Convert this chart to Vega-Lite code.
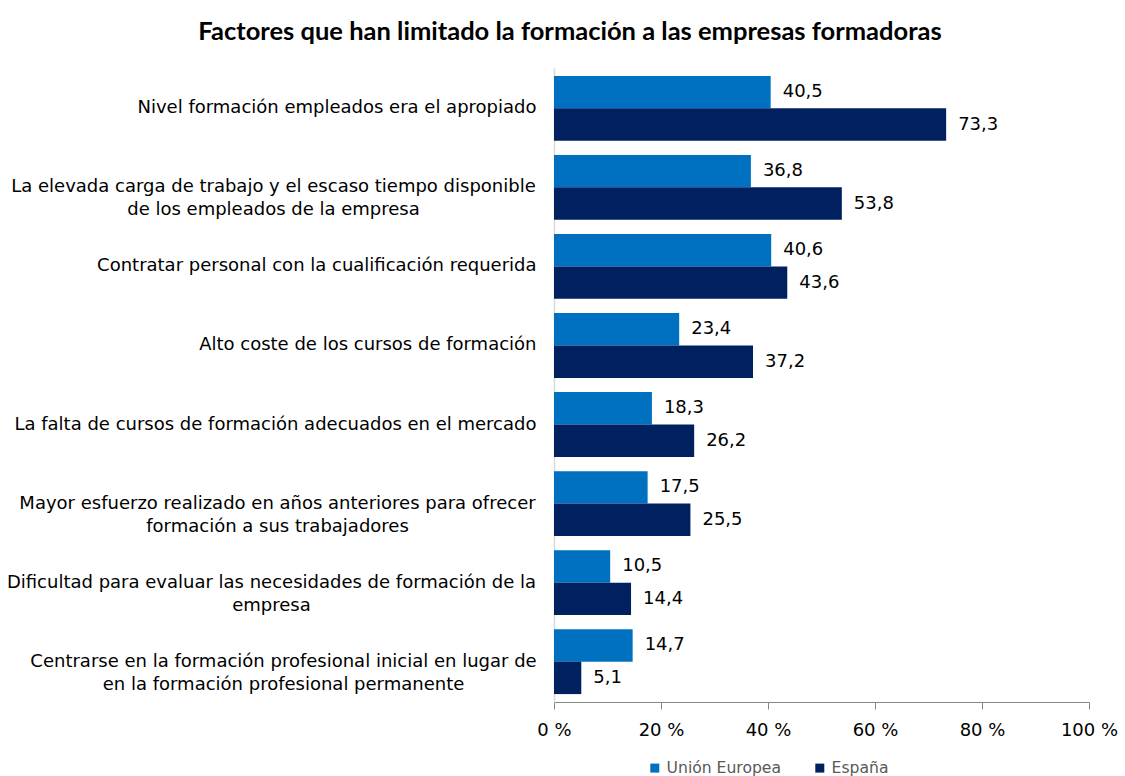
{
  "$schema": "https://vega.github.io/schema/vega-lite/v6.json",
  "width": 535,
  "height": 634,
  "autosize": {"type": "none"},
  "padding": {"left": 554, "top": 68, "right": 36, "bottom": 74},
  "background": "white",
  "config": {
    "view": {"stroke": null},
    "font": "DejaVu Sans",
    "locale": {"number": {"decimal": ",", "thousands": ".", "grouping": [3], "currency": ["", " €"]}}
  },
  "title": {
    "text": "Factores que han limitado la formación a las empresas formadoras",
    "font": "Lato",
    "fontSize": 25.5,
    "fontWeight": "bold",
    "color": "#000000",
    "anchor": "middle",
    "frame": "bounds",
    "dx": 8,
    "offset": 23
  },
  "data": {
    "values": [
      {"factor": "Nivel formación empleados era el apropiado", "serie": "Unión Europea", "valor": 40.5},
      {"factor": "Nivel formación empleados era el apropiado", "serie": "España", "valor": 73.3},
      {"factor": "La elevada carga de trabajo y el escaso tiempo disponible|de los empleados de la empresa", "serie": "Unión Europea", "valor": 36.8},
      {"factor": "La elevada carga de trabajo y el escaso tiempo disponible|de los empleados de la empresa", "serie": "España", "valor": 53.8},
      {"factor": "Contratar personal con la cualificación requerida", "serie": "Unión Europea", "valor": 40.6},
      {"factor": "Contratar personal con la cualificación requerida", "serie": "España", "valor": 43.6},
      {"factor": "Alto coste de los cursos de formación", "serie": "Unión Europea", "valor": 23.4},
      {"factor": "Alto coste de los cursos de formación", "serie": "España", "valor": 37.2},
      {"factor": "La falta de cursos de formación adecuados en el mercado", "serie": "Unión Europea", "valor": 18.3},
      {"factor": "La falta de cursos de formación adecuados en el mercado", "serie": "España", "valor": 26.2},
      {"factor": "Mayor esfuerzo realizado en años anteriores para ofrecer|formación a sus trabajadores", "serie": "Unión Europea", "valor": 17.5},
      {"factor": "Mayor esfuerzo realizado en años anteriores para ofrecer|formación a sus trabajadores", "serie": "España", "valor": 25.5},
      {"factor": "Dificultad para evaluar las necesidades de formación de la|empresa", "serie": "Unión Europea", "valor": 10.5},
      {"factor": "Dificultad para evaluar las necesidades de formación de la|empresa", "serie": "España", "valor": 14.4},
      {"factor": "Centrarse en la formación profesional inicial en lugar de|en la formación profesional permanente", "serie": "Unión Europea", "valor": 14.7},
      {"factor": "Centrarse en la formación profesional inicial en lugar de|en la formación profesional permanente", "serie": "España", "valor": 5.1}
    ]
  },
  "encoding": {
    "y": {
      "field": "factor",
      "type": "nominal",
      "sort": null,
      "scale": {"paddingInner": 0.18, "paddingOuter": 0.1},
      "axis": {
        "title": null,
        "ticks": false,
        "domainColor": "#d9d9d9",
        "domainWidth": 1.5,
        "labelFontSize": 18,
        "labelColor": "#000000",
        "labelPadding": 18,
        "labelLimit": 0,
        "labelLineHeight": 23,
        "labelExpr": "split(datum.label, '|')",
        "labelAlign": {"condition": {"test": "indexof(datum.value, '|') >= 0", "value": "center"}, "value": "right"},
        "encoding": {
          "labels": {
            "dx": {"value": {"expr": "indexof(datum.value, 'La elevada') == 0 ? -263 : indexof(datum.value, 'Mayor') == 0 ? -259 : indexof(datum.value, 'Dificultad') == 0 ? -265 : indexof(datum.value, 'Centrarse') == 0 ? -253 : 0"}}
          }
        }
      }
    },
    "yOffset": {"field": "serie", "type": "nominal", "sort": ["Unión Europea", "España"]},
    "x": {
      "field": "valor",
      "type": "quantitative",
      "scale": {"domain": [0, 100], "nice": false},
      "axis": {
        "title": null,
        "values": [0, 20, 40, 60, 80, 100],
        "grid": false,
        "labelFlush": false,
        "domainColor": "#868686",
        "tickColor": "#868686",
        "tickSize": 7,
        "labelFontSize": 18,
        "labelColor": "#000000",
        "labelPadding": 12,
        "labelExpr": "datum.value + ' %'"
      }
    }
  },
  "layer": [
    {
      "mark": {"type": "bar"},
      "encoding": {
        "color": {
          "field": "serie",
          "type": "nominal",
          "sort": ["Unión Europea", "España"],
          "scale": {"domain": ["Unión Europea", "España"], "range": ["#0070C0", "#002060"]},
          "legend": {
            "title": null,
            "orient": "none",
            "direction": "horizontal",
            "legendX": 93,
            "legendY": 692,
            "symbolType": "square",
            "symbolSize": 81,
            "symbolStrokeWidth": 0,
            "labelFontSize": 15.6,
            "labelColor": "#595959",
            "labelOffset": 4,
            "columnPadding": 30
          }
        }
      }
    },
    {
      "mark": {"type": "text", "align": "left", "baseline": "middle", "dx": 12, "fontSize": 18, "color": "#000000"},
      "encoding": {
        "text": {"field": "valor", "type": "quantitative", "format": ".1f"}
      }
    }
  ]
}
